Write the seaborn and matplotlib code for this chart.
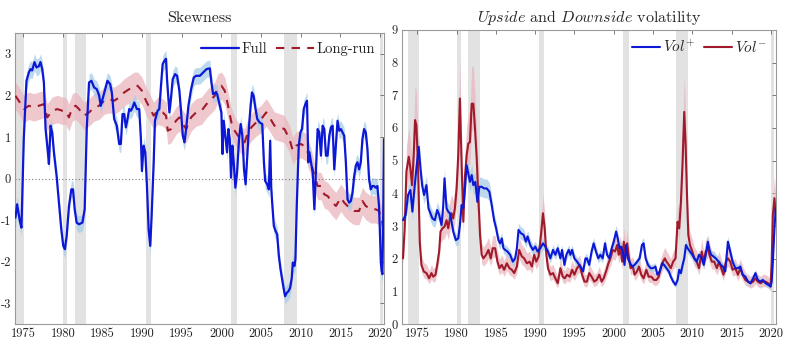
import matplotlib
matplotlib.use("Agg")
import matplotlib.pyplot as plt
import seaborn as sns
import numpy as np
import pandas as pd

# ---------------- data ----------------
recessions = [(1973.83, 1975.17), (1980.0, 1980.5), (1981.5, 1982.92), (1990.5, 1991.17),
              (2001.17, 2001.92), (2007.92, 2009.5), (2020.0, 2020.42)]

full_year = [1974.03, 1974.24, 1974.58, 1974.79, 1975.08, 1975.42, 1975.72, 1975.93, 1976.14, 1976.43,
             1976.69, 1976.98, 1977.19, 1977.41, 1977.62, 1977.83, 1978.12, 1978.25, 1978.46, 1978.67,
             1978.88, 1979.22, 1979.51, 1979.81, 1980.06, 1980.27, 1980.49, 1980.78, 1981.08, 1981.29,
             1981.50, 1981.75, 1982.05, 1982.47, 1982.76, 1983.02, 1983.31, 1983.61, 1983.95, 1984.28,
             1984.58, 1984.79, 1985.21, 1985.63, 1985.97, 1986.18, 1986.48, 1986.81, 1987.11, 1987.32,
             1987.53, 1987.74, 1987.95, 1988.16, 1988.38, 1988.59, 1988.80, 1989.01, 1989.35, 1989.64,
             1989.85, 1989.98, 1990.19, 1990.40, 1990.61, 1990.82, 1991.03, 1991.20, 1991.46, 1991.62,
             1991.96, 1992.17, 1992.38, 1992.59, 1992.81, 1993.02, 1993.14, 1993.44, 1993.65, 1993.86,
             1994.16, 1994.41, 1994.70, 1994.92, 1995.13, 1995.34, 1995.55, 1995.84, 1996.18, 1996.52,
             1996.81, 1997.28, 1997.70, 1998.12, 1998.54, 1998.74, 1998.95, 1999.29, 1999.46, 1999.71,
             2000.00, 2000.13, 2000.29, 2000.54, 2000.71, 2000.88, 2001.05, 2001.21, 2001.38, 2001.55,
             2001.76, 2001.97, 2002.22, 2002.43, 2002.64, 2002.85, 2003.05, 2003.26, 2003.47, 2003.68,
             2003.85, 2004.06, 2004.27, 2004.52, 2004.81, 2005.15, 2005.36, 2005.52, 2005.77, 2005.98,
             2006.15, 2006.28, 2006.40, 2006.61, 2006.82, 2007.03, 2007.24, 2007.45, 2007.66, 2007.87,
             2008.03, 2008.24, 2008.45, 2008.66, 2008.87, 2009.00, 2009.21, 2009.33, 2009.50, 2009.75,
             2009.96, 2010.17, 2010.38, 2010.59, 2010.79, 2010.96, 2011.09, 2011.30, 2011.51, 2011.72,
             2011.92, 2012.13, 2012.34, 2012.55, 2012.76, 2012.97, 2013.18, 2013.39, 2013.60, 2013.81,
             2014.02, 2014.23, 2014.44, 2014.64, 2014.85, 2015.06, 2015.27, 2015.48, 2015.69, 2015.90,
             2016.11, 2016.32, 2016.53, 2016.74, 2016.95, 2017.15, 2017.36, 2017.57, 2017.78, 2017.99,
             2018.20, 2018.41, 2018.62, 2018.83, 2019.04, 2019.25, 2019.46, 2019.67, 2019.87, 2020.00,
             2020.10, 2020.20, 2020.30, 2020.40, 2020.50]
full_val = [-0.94, -0.62, -1.02, -1.18, 0.95, 2.35, 2.55, 2.63, 2.60, 2.80,
            2.67, 2.70, 2.80, 2.63, 2.30, 1.19, 0.63, 0.35, 1.27, 1.10,
            0.63, 0.06, -0.58, -1.22, -1.62, -1.70, -1.38, -0.66, -0.26, -0.26,
            -0.74, -1.06, -1.10, -1.06, -0.74, 1.19, 2.31, 2.35, 2.19, 2.15,
            2.00, 1.75, 2.05, 2.35, 2.27, 2.07, 1.43, 1.27, 0.83, 0.83,
            1.55, 1.55, 1.23, 1.43, 1.67, 1.63, 1.71, 1.83, 1.67, 1.67,
            0.95, 0.18, 0.79, 0.63, -0.18, -1.22, -1.62, -0.90, 0.39, 1.39,
            1.63, 1.67, 2.23, 2.75, 2.83, 2.88, 2.39, 1.59, 1.95, 2.39,
            2.51, 2.47, 2.11, 1.59, 1.03, 0.87, 1.19, 1.75, 2.15, 2.43,
            2.47, 2.47, 2.55, 2.63, 2.65, 2.31, 2.03, 2.07, 2.03, 1.83,
            1.59, 0.59, 1.39, 0.95, 0.63, 1.19, 0.95, 0.02, 0.79, 0.39,
            -0.22, 0.14, 0.95, 1.31, 1.03, 0.22, -0.14, 0.55, 1.23, 1.75,
            2.07, 1.99, 1.71, 1.43, 1.35, 1.31, 0.39, -0.06, -0.14, -0.26,
            0.91, -0.22, -0.58, -1.14, -1.26, -1.34, -1.86, -2.18, -2.43, -2.67,
            -2.83, -2.75, -2.71, -2.63, -2.39, -2.02, -2.10, -1.94, -0.66, 0.79,
            1.11, 1.19, 1.67, 1.79, 1.87, 0.39, 0.63, 0.39, 0.14, -0.74,
            0.22, 1.19, 1.11, 0.55, 1.27, 1.19, 0.55, 0.55, 1.03, 1.23,
            1.27, 0.22, 0.83, 1.39, 1.15, 1.19, 1.11, 1.03, 0.39, -0.50,
            -0.58, -0.54, -0.34, 0.06, 0.31, 0.39, 0.22, 0.39, 0.95, 1.19,
            1.11, 0.71, -0.02, -0.26, -0.18, -0.18, -0.22, -0.18, -0.66, -1.38,
            -2.02, -2.22, -2.30, -0.90, 0.95]

lr_year = [1974.03, 1974.45, 1975.08, 1975.72, 1976.35, 1976.98, 1977.62, 1978.04, 1978.67, 1979.30,
           1979.94, 1980.36, 1980.78, 1981.20, 1981.62, 1982.05, 1982.68, 1983.31, 1983.95, 1984.58,
           1985.21, 1985.84, 1986.48, 1987.11, 1987.74, 1988.38, 1989.01, 1989.43, 1989.98, 1990.49,
           1991.03, 1991.46, 1991.96, 1992.59, 1993.02, 1993.23, 1993.65, 1994.28, 1994.70, 1995.13,
           1995.55, 1996.18, 1996.81, 1997.49, 1998.12, 1998.74, 1999.16, 1999.58, 2000.00, 2000.42,
           2000.84, 2001.26, 2001.67, 2002.09, 2002.51, 2002.93, 2003.35, 2003.77, 2004.39, 2005.02,
           2005.65, 2006.07, 2006.69, 2007.32, 2007.95, 2008.58, 2009.00, 2009.41, 2010.04, 2010.67,
           2011.30, 2011.72, 2012.13, 2012.55, 2012.97, 2013.39, 2014.02, 2014.44, 2015.06, 2015.48,
           2016.11, 2016.74, 2017.36, 2017.78, 2018.20, 2018.83, 2019.46, 2019.87, 2020.29, 2020.50]
lr_val = [1.99, 1.87, 1.67, 1.75, 1.71, 1.75, 1.79, 1.47, 1.63, 1.67,
          1.63, 1.63, 1.47, 1.71, 1.75, 1.67, 1.51, 1.59, 1.71, 1.75,
          1.87, 1.91, 1.87, 1.95, 2.07, 2.15, 2.23, 2.23, 2.11, 1.87,
          1.67, 1.51, 1.63, 1.59, 1.51, 1.15, 1.19, 1.39, 1.47, 1.31,
          1.19, 1.47, 1.59, 1.63, 1.79, 1.91, 1.99, 2.19, 2.23, 2.11,
          1.75, 1.35, 1.15, 1.03, 0.91, 0.87, 1.11, 1.23, 1.35, 1.43,
          1.59, 1.47, 1.27, 1.23, 1.19, 0.95, 0.67, 0.79, 0.83, 0.75,
          0.39, 0.06, -0.18, -0.18, -0.38, -0.42, -0.58, -0.66, -0.46, -0.58,
          -0.70, -0.78, -0.78, -0.54, -0.66, -0.74, -0.74, -0.78, -1.06, -1.38]

volp_year = [1973.18, 1973.52, 1973.82, 1974.12, 1974.37, 1974.67, 1974.97, 1975.18, 1975.40, 1975.61,
             1975.86, 1976.16, 1976.42, 1976.67, 1976.93, 1977.23, 1977.53, 1977.78, 1978.08, 1978.29,
             1978.46, 1978.72, 1978.93, 1979.14, 1979.36, 1979.57, 1979.91, 1980.21, 1980.42, 1980.63,
             1980.85, 1981.06, 1981.28, 1981.49, 1981.70, 1981.92, 1982.13, 1982.38, 1982.64, 1982.90,
             1983.19, 1983.49, 1983.83, 1984.17, 1984.47, 1984.77, 1985.03, 1985.32, 1985.54, 1985.75,
             1985.96, 1986.18, 1986.47, 1986.81, 1987.16, 1987.45, 1987.67, 1987.88, 1988.18, 1988.52,
             1988.82, 1989.03, 1989.37, 1989.71, 1990.01, 1990.31, 1990.65, 1990.99, 1991.29, 1991.63,
             1991.93, 1992.27, 1992.57, 1992.87, 1993.21, 1993.42, 1993.72, 1993.97, 1994.27, 1994.48,
             1994.70, 1994.99, 1995.33, 1995.76, 1996.10, 1996.40, 1996.58, 1996.88, 1997.18, 1997.44,
             1997.74, 1998.03, 1998.29, 1998.59, 1998.89, 1999.15, 1999.44, 1999.74, 2000.00, 2000.30,
             2000.51, 2000.73, 2000.94, 2001.15, 2001.37, 2001.58, 2001.79, 2002.09, 2002.35, 2002.65,
             2002.99, 2003.29, 2003.59, 2003.80, 2004.06, 2004.36, 2004.70, 2005.00, 2005.30, 2005.56,
             2005.85, 2006.15, 2006.41, 2006.71, 2007.01, 2007.26, 2007.56, 2007.86, 2008.12, 2008.33,
             2008.55, 2008.76, 2008.97, 2009.19, 2009.40, 2009.70, 2010.00, 2010.26, 2010.56, 2010.85,
             2011.20, 2011.45, 2011.71, 2011.97, 2012.18, 2012.39, 2012.69, 2012.99, 2013.33, 2013.63,
             2013.89, 2014.19, 2014.53, 2014.83, 2015.13, 2015.47, 2015.81, 2016.11, 2016.41, 2016.75,
             2017.09, 2017.39, 2017.74, 2018.03, 2018.33, 2018.68, 2018.97, 2019.32, 2019.66, 2019.96,
             2020.10, 2020.25, 2020.45, 2020.62]
volp_val = [3.18, 3.34, 3.95, 4.10, 3.44, 4.25, 4.96, 5.42, 4.76, 4.25,
            3.95, 4.25, 3.54, 3.39, 3.23, 3.18, 3.49, 3.34, 3.03, 3.59,
            4.46, 3.54, 3.44, 3.39, 3.13, 2.83, 2.57, 2.62, 3.03, 3.64,
            3.54, 4.15, 4.86, 4.61, 4.35, 4.56, 4.25, 4.35, 3.74, 4.20,
            4.20, 4.15, 4.15, 4.05, 3.64, 3.18, 2.93, 2.57, 2.47, 2.62,
            2.32, 2.27, 2.22, 2.12, 1.91, 2.01, 2.32, 2.88, 2.78, 2.73,
            2.52, 2.68, 2.42, 2.27, 2.37, 2.22, 2.32, 2.47, 2.37, 2.22,
            2.01, 2.27, 2.12, 2.32, 2.01, 2.27, 1.81, 2.12, 2.27, 2.12,
            2.27, 2.01, 1.91, 1.76, 1.61, 2.01, 2.01, 1.81, 2.22, 2.47,
            2.22, 2.01, 2.12, 2.01, 2.47, 2.12, 2.01, 2.32, 2.52, 2.83,
            2.62, 2.32, 2.37, 2.22, 1.81, 2.42, 2.01, 1.86, 1.76, 1.81,
            1.91, 2.01, 2.42, 2.47, 2.01, 1.81, 1.71, 1.71, 1.76, 1.51,
            1.61, 1.86, 1.81, 1.71, 1.61, 1.45, 1.30, 1.20, 1.35, 1.66,
            1.56, 1.81, 2.01, 2.42, 2.32, 2.22, 2.12, 2.01, 1.91, 2.12,
            2.01, 1.81, 2.12, 2.52, 2.27, 2.12, 2.07, 2.01, 1.91, 1.81,
            1.76, 1.61, 2.52, 2.22, 1.91, 1.71, 1.71, 1.76, 1.51, 1.45,
            1.30, 1.25, 1.40, 1.56, 1.35, 1.30, 1.35, 1.25, 1.20, 1.15,
            1.30, 1.91, 2.93, 3.54]

voln_year = [1973.18, 1973.39, 1973.61, 1973.91, 1974.12, 1974.33, 1974.54, 1974.71, 1974.88, 1975.10,
             1975.31, 1975.52, 1975.82, 1976.16, 1976.50, 1976.80, 1977.02, 1977.31, 1977.53, 1977.78,
             1977.95, 1978.21, 1978.46, 1978.72, 1978.93, 1979.15, 1979.36, 1979.57, 1979.78, 1980.00,
             1980.21, 1980.42, 1980.63, 1980.85, 1981.06, 1981.28, 1981.49, 1981.70, 1981.92, 1982.13,
             1982.34, 1982.56, 1982.77, 1982.98, 1983.19, 1983.41, 1983.75, 1984.05, 1984.35, 1984.60,
             1984.90, 1985.20, 1985.45, 1985.75, 1986.05, 1986.39, 1986.73, 1987.03, 1987.33, 1987.67,
             1987.96, 1988.30, 1988.60, 1988.94, 1989.28, 1989.58, 1989.88, 1990.14, 1990.44, 1990.74,
             1990.99, 1991.21, 1991.42, 1991.63, 1991.93, 1992.27, 1992.57, 1992.87, 1993.21, 1993.51,
             1993.76, 1994.06, 1994.40, 1994.70, 1994.99, 1995.33, 1995.67, 1995.97, 1996.27, 1996.58,
             1996.88, 1997.18, 1997.52, 1997.82, 1998.16, 1998.46, 1998.72, 1999.02, 1999.32, 1999.57,
             1999.87, 2000.17, 2000.43, 2000.64, 2000.85, 2001.07, 2001.28, 2001.50, 2001.71, 2001.88,
             2002.14, 2002.44, 2002.65, 2002.95, 2003.21, 2003.50, 2003.80, 2004.15, 2004.44, 2004.79,
             2005.13, 2005.43, 2005.73, 2005.98, 2006.28, 2006.50, 2006.71, 2007.01, 2007.26, 2007.56,
             2007.86, 2008.12, 2008.33, 2008.55, 2008.76, 2008.97, 2009.15, 2009.32, 2009.49, 2009.70,
             2010.00, 2010.26, 2010.56, 2010.85, 2011.20, 2011.45, 2011.71, 2011.97, 2012.18, 2012.48,
             2012.78, 2013.12, 2013.42, 2013.68, 2013.97, 2014.27, 2014.53, 2014.83, 2015.13, 2015.47,
             2015.81, 2016.11, 2016.41, 2016.75, 2017.09, 2017.39, 2017.74, 2018.03, 2018.33, 2018.68,
             2018.97, 2019.32, 2019.66, 2019.96, 2020.10, 2020.25, 2020.45, 2020.62]
voln_val = [2.01, 2.93, 4.66, 5.12, 4.76, 4.25, 5.17, 6.24, 6.08, 4.76,
            2.52, 1.81, 1.61, 1.56, 1.40, 1.56, 1.45, 1.51, 1.81, 2.22,
            2.83, 2.93, 2.98, 3.18, 2.93, 3.23, 3.39, 3.23, 3.54, 4.15,
            5.17, 6.90, 4.96, 3.13, 4.51, 5.17, 5.52, 5.57, 6.74, 6.74,
            5.98, 5.07, 3.85, 2.73, 2.12, 2.01, 2.12, 2.27, 2.01, 2.32,
            2.32, 1.91, 1.71, 1.81, 1.66, 1.86, 1.71, 1.66, 1.56, 1.76,
            2.27, 2.07, 2.01, 1.86, 1.91, 1.76, 2.12, 1.91, 2.07, 2.73,
            3.39, 2.93, 2.12, 1.71, 1.51, 1.56, 1.40, 1.25, 1.71, 1.45,
            1.40, 1.51, 1.45, 1.66, 1.51, 1.71, 1.81, 1.51, 1.30, 1.30,
            1.56, 1.45, 1.30, 1.35, 1.51, 1.30, 1.40, 1.61, 1.86, 2.01,
            2.27, 2.22, 2.42, 2.12, 2.32, 1.91, 2.52, 2.12, 2.47, 2.12,
            1.71, 1.76, 1.51, 1.61, 1.76, 1.51, 1.40, 1.66, 1.45, 1.45,
            1.35, 1.35, 1.45, 1.71, 1.91, 2.01, 1.91, 1.81, 1.71, 1.91,
            2.01, 3.13, 2.93, 3.74, 4.96, 6.49, 5.47, 3.95, 2.73, 2.42,
            2.22, 2.01, 1.91, 1.71, 2.22, 1.91, 2.22, 2.32, 2.12, 1.91,
            1.91, 1.71, 1.91, 1.71, 1.51, 1.91, 2.01, 1.91, 1.66, 1.71,
            1.51, 1.71, 1.51, 1.35, 1.30, 1.25, 1.30, 1.40, 1.30, 1.25,
            1.30, 1.30, 1.25, 1.15, 1.91, 3.34, 3.85, 3.34]

# confidence-band half-widths read from the shaded areas
full_band = 0.2
lr_band = 0.33
volp_band_rel = 0.07
voln_band_lo_rel = 0.12
voln_band_hi_rel = 0.17

left_ticks_x = [1975, 1980, 1985, 1990, 1995, 2000, 2005, 2010, 2015, 2020]
left_ticks_y = [-3, -2, -1, 0, 1, 2, 3]
right_ticks_y = [0, 1, 2, 3, 4, 5, 6, 7, 8, 9]

# ---------------- style ----------------
sns.set_theme(style="white")
plt.rcParams["font.family"] = ["cmr10", "DejaVu Serif"]
plt.rcParams["mathtext.fontset"] = "cm"
plt.rcParams["axes.unicode_minus"] = False
plt.rcParams["axes.formatter.use_mathtext"] = True

BLUE = "#0d17d6"
RED = "#a11a2c"
BLUE_BAND = "#a6cde9"
RED_BAND = "#eab6be"
GRAY = "#e2e2e2"

fig = plt.figure(figsize=(8.0, 3.47), dpi=100)
axL = fig.add_axes([0.019, 0.066, 0.461, 0.839])
axR = fig.add_axes([0.5025, 0.066, 0.4675, 0.848])

for ax in (axL, axR):
    for a, b in recessions:
        ax.axvspan(a, b, color=GRAY, lw=0, zorder=0)

# ---- left: skewness ----
df_full = pd.DataFrame({"year": full_year, "val": full_val})
df_lr = pd.DataFrame({"year": lr_year, "val": lr_val})

axL.fill_between(df_lr["year"], df_lr["val"] - lr_band, df_lr["val"] + lr_band,
                 color=RED_BAND, alpha=0.75, lw=0, zorder=1)
axL.fill_between(df_full["year"], df_full["val"] - full_band, df_full["val"] + full_band,
                 color=BLUE_BAND, alpha=0.75, lw=0, zorder=1)
axL.axhline(0, color="#777777", ls=(0, (1, 2)), lw=0.8, zorder=1.5)
sns.lineplot(data=df_lr, x="year", y="val", ax=axL, color=RED, lw=1.5,
             estimator=None, sort=False, label="Long-run", zorder=3)
axL.lines[-1].set_dashes([4, 3.5])
sns.lineplot(data=df_full, x="year", y="val", ax=axL, color=BLUE, lw=1.6,
             estimator=None, sort=False, label="Full", zorder=4)

axL.set_xlim(1974.0, 2020.5)
axL.set_ylim(-3.5, 3.5)
axL.set_yticks(left_ticks_y)
axL.set_yticklabels([str(v) for v in left_ticks_y])
axL.set_title("Skewness", fontsize=11.5, pad=8)

hL, lL = axL.get_legend_handles_labels()
order = [lL.index("Full"), lL.index("Long-run")]
axL.legend([hL[i] for i in order], [lL[i] for i in order], loc="upper right", ncol=2,
           frameon=False, fontsize=10.5, handlelength=2.6, handletextpad=0.2,
           columnspacing=0.6, borderaxespad=0.2)

# ---- right: upside / downside volatility ----
df_p = pd.DataFrame({"year": volp_year, "val": volp_val})
df_n = pd.DataFrame({"year": voln_year, "val": voln_val})

axR.fill_between(df_n["year"], df_n["val"] * (1 - voln_band_lo_rel), df_n["val"] * (1 + voln_band_hi_rel),
                 color=RED_BAND, alpha=0.75, lw=0, zorder=1)
axR.fill_between(df_p["year"], df_p["val"] * (1 - volp_band_rel), df_p["val"] * (1 + volp_band_rel),
                 color=BLUE_BAND, alpha=0.75, lw=0, zorder=1)
sns.lineplot(data=df_n, x="year", y="val", ax=axR, color=RED, lw=1.5,
             estimator=None, sort=False, label=r"$Vol^{-}$", zorder=3)
sns.lineplot(data=df_p, x="year", y="val", ax=axR, color=BLUE, lw=1.5,
             estimator=None, sort=False, label=r"$Vol^{+}$", zorder=4)

axR.set_xlim(1973.05, 2020.65)
axR.set_ylim(0, 9)
axR.set_yticks(right_ticks_y)
axR.set_yticklabels([str(v) for v in right_ticks_y])
axR.set_title(r"$\mathit{Upside}$ and $\mathit{Downside}$ volatility", fontsize=11.5, pad=6)

hR, lR = axR.get_legend_handles_labels()
axR.legend([hR[1], hR[0]], [lR[1], lR[0]], loc="upper right", ncol=2, frameon=False,
           fontsize=11, handlelength=1.8, handletextpad=0.2, columnspacing=0.6,
           borderaxespad=0.2)

for ax in (axL, axR):
    ax.set_xticks(left_ticks_x)
    ax.set_xticklabels([str(v) for v in left_ticks_x])
    ax.set_xlabel("")
    ax.set_ylabel("")
    ax.tick_params(axis="both", direction="in", length=3, width=0.6, color="#666666",
                   labelsize=9, pad=3, top=True, right=True, labelcolor="#222222")
    for s in ax.spines.values():
        s.set_color("#9a9a9a")
        s.set_linewidth(0.8)
    ax.grid(False)

fig.savefig("out.png", dpi=100)
